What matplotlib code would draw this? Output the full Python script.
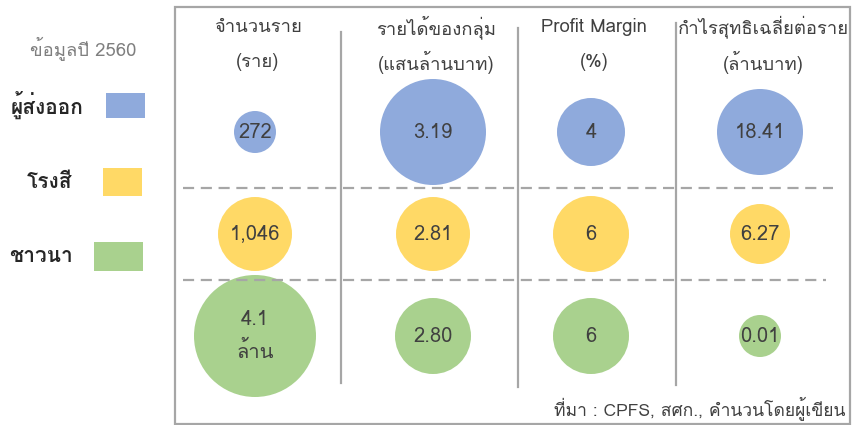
import matplotlib
matplotlib.use("Agg")
import matplotlib.pyplot as plt
from matplotlib import font_manager
from matplotlib.ft2font import FT2Font
from matplotlib.patches import Circle, Rectangle

# data
groups = ["ผู้ส่งออก", "โรงสี", "ชาวนา"]
metrics = ["จำนวนราย\n(ราย)", "รายได้ของกลุ่ม\n(แสนล้านบาท)", "Profit Margin\n(%)",
           "กำไรสุทธิเฉลี่ยต่อราย\n(ล้านบาท)"]
exporters = ["272", "3.19", "4", "18.41"]
millers = ["1,046", "2.81", "6", "6.27"]
farmers = ["4.1\nล้าน", "2.80", "6", "0.01"]
year_note = "ข้อมูลปี 2560"
source = "ที่มา : CPFS, สศก., คำนวนโดยผู้เขียน"

colors = ["#8FAADC", "#FFD966", "#A9D18E"]
line_c = "#A6A6A6"
txt_c = "#404040"

# find a font that can draw thai
thai_fams = []
for f in font_manager.fontManager.ttflist:
    try:
        if 0x0E01 in FT2Font(f.fname).get_charmap():
            if f.name not in thai_fams:
                thai_fams.append(f.name)
    except Exception:
        pass
fams = thai_fams[:1] + ["DejaVu Sans"]
plt.rcParams["font.family"] = fams

# layout in pixels
col_x = [255, 433, 591, 760]
row_y = [132, 234, 336]
bubble_r = [[21, 53, 34, 43],
            [37, 37, 38, 30],
            [61, 38, 38, 21]]

fig = plt.figure(figsize=(8.52, 4.25), dpi=100)
ax = fig.add_axes([0, 0, 1, 1])
ax.set_xlim(0, 852)
ax.set_ylim(425, 0)
ax.axis("off")

# frame and grid lines
ax.add_patch(Rectangle((175, 7), 675, 417, fill=False, ec=line_c, lw=1.6))
for x, y0, y1 in [(341, 32, 383), (518, 28, 387), (676, 23, 385)]:
    ax.plot([x, x], [y0, y1], color=line_c, lw=1.6)
ax.plot([183, 833], [188, 188], color=line_c, lw=1.6, ls=(0, (5, 3)))
ax.plot([183, 826], [280, 280], color=line_c, lw=1.6, ls=(0, (5, 3)))

# headers
for j, m in enumerate(metrics):
    top, bottom = m.split("\n")
    ax.text(col_x[j] + 3, 27, top, ha="center", va="center", fontsize=13.3, color=txt_c)
    ax.text(col_x[j] + 3, 62, bottom, ha="center", va="center", fontsize=13.3, color=txt_c)

# bubbles
for i, row in enumerate([exporters, millers, farmers]):
    for j, val in enumerate(row):
        ax.add_patch(Circle((col_x[j], row_y[i]), bubble_r[i][j], color=colors[i], lw=0))
        ax.text(col_x[j], row_y[i], val, ha="center", va="center", fontsize=14.5,
                color=txt_c, linespacing=1.7)

# left legend
ax.text(83, 48, year_note, ha="center", va="center", fontsize=13.3, color="#7F7F7F")
legend_y = [105, 182, 256]
legend_x = [47, 50, 41]
boxes = [(106, 93, 39, 25), (103, 168, 39, 28), (94, 242, 49, 29)]
for g, c, lx, ly, b in zip(groups, colors, legend_x, legend_y, boxes):
    ax.text(lx, ly, g, ha="center", va="center", fontsize=15, color="#262626",
            fontweight="bold")
    ax.add_patch(Rectangle((b[0], b[1]), b[2], b[3], color=c, lw=0))

ax.text(845, 408, source, ha="right", va="center", fontsize=12.6, color=txt_c)

fig.savefig("out.png", dpi=100)
